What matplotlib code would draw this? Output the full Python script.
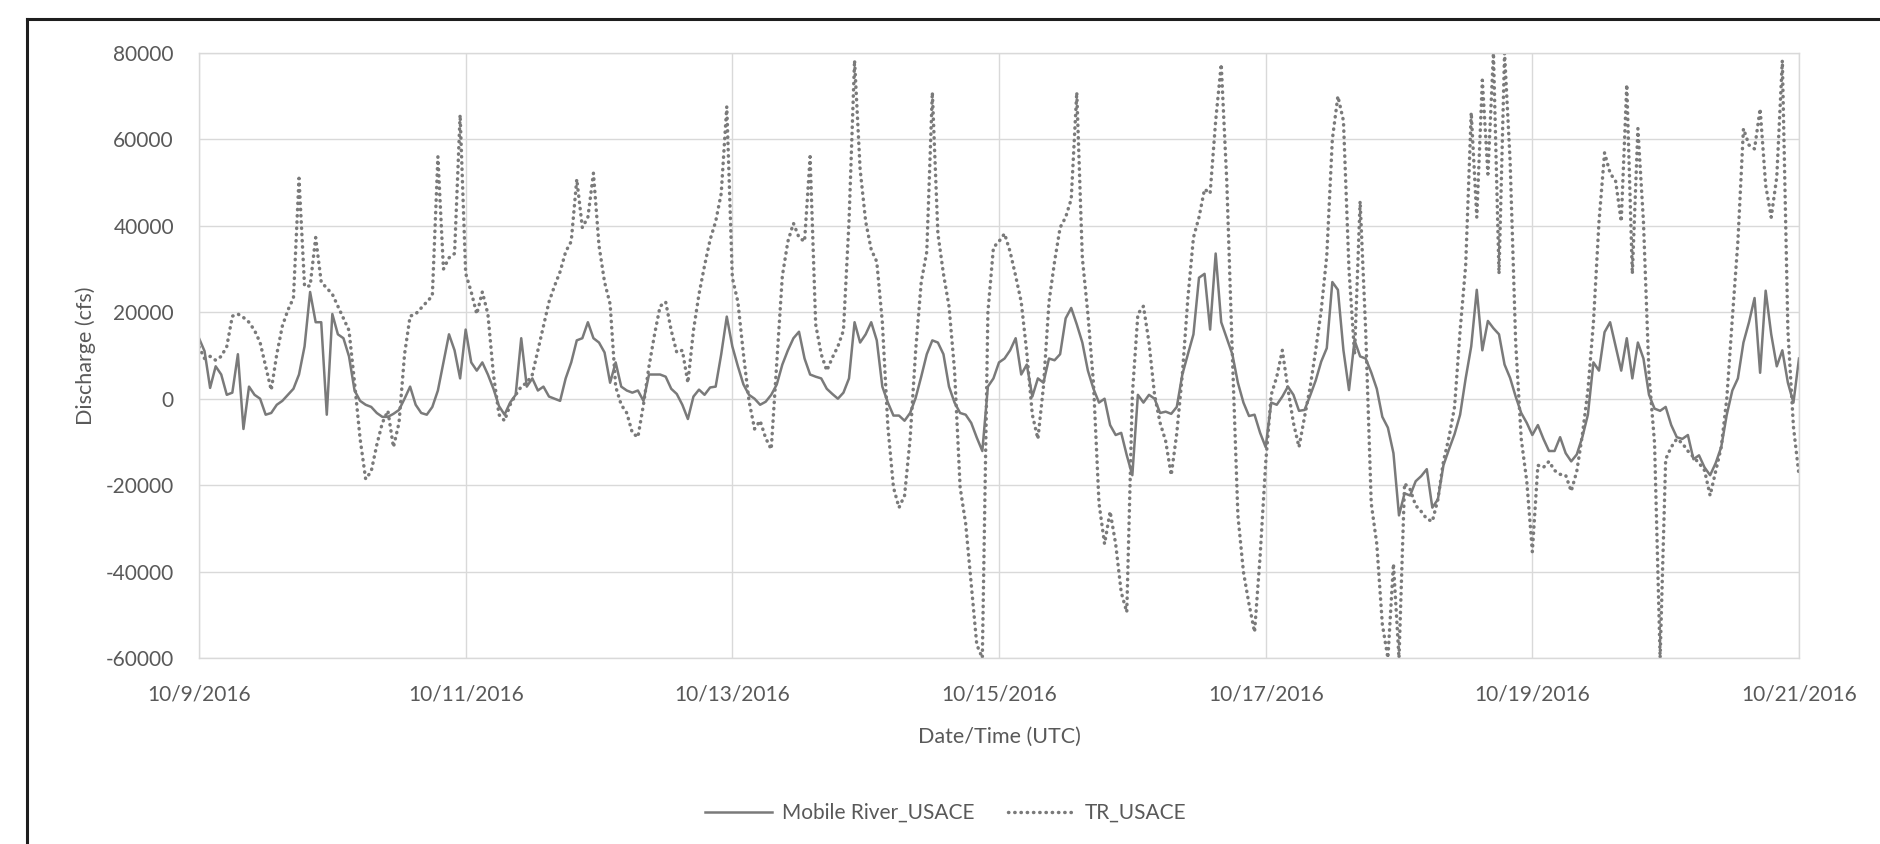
import matplotlib
matplotlib.use("Agg")
import matplotlib.pyplot as plt
from matplotlib.lines import Line2D
import pandas as pd

# Hourly discharge (cfs), 10/9/2016 00:00 UTC through 10/21/2016 00:00 UTC
start = "2016-10-09 00:00"

mobile_river_usace = [
    14000, 11000, 2500, 7500, 5600, 900, 1400, 10300, -7000, 2800, 900, 0,
    -3700, -3300, -1400, -500, 900, 2300, 5600, 12100, 24700, 17700, 17700, -3700,
    19600, 14900, 14000, 9800, 1900, -500, -1400, -1900, -3300, -4200, -4200, -3500,
    -2600, 0, 2800, -1400, -3300, -3700, -1900, 1900, 8400, 14900, 11200, 4700,
    16000, 8400, 6500, 8400, 5600, 2300, -1700, -3700, -900, 900, 14000, 2800,
    4700, 1900, 2800, 500, 0, -500, 4700, 8400, 13500, 14000, 17700, 14000,
    13000, 10700, 3700, 8400, 2800, 1900, 1400, 1900, -500, 5600, 5600, 5600,
    5100, 2300, 1100, -1400, -4700, 500, 2100, 900, 2600, 2800, 10300, 19000,
    12100, 7500, 3300, 900, 0, -1400, -700, 900, 3300, 7900, 11200, 14000,
    15500, 9300, 5600, 5100, 4700, 2300, 1100, 0, 1400, 4700, 17700, 13000,
    14900, 17700, 13500, 2800, -900, -3900, -3900, -5100, -3300, 200, 5100, 10300,
    13500, 13000, 10300, 2800, -900, -3300, -3700, -5600, -9000, -12100, 2800, 4700,
    8400, 9300, 11200, 14000, 5600, 7900, 500, 4700, 3700, 9300, 8900, 10300,
    18600, 21000, 17200, 13000, 6500, 2300, -900, 0, -6100, -8400, -7900, -13100,
    -17700, 900, -900, 900, 0, -3300, -3000, -3500, -1900, 5600, 10300, 14900,
    28000, 28900, 16000, 33600, 17700, 14000, 10300, 3700, -900, -4000, -3700, -7900,
    -11200, -900, -1400, 500, 2800, 900, -2800, -2600, 700, 4200, 8600, 11700,
    27000, 25200, 11200, 2000, 13500, 9800, 9300, 6100, 2300, -4200, -6700, -12600,
    -27000, -21900, -22400, -19100, -17900, -16300, -25200, -23300, -15400, -11700, -8200, -3700,
    4700, 12100, 25200, 11200, 18000, 16300, 14900, 7900, 4800, 500, -3300, -5600,
    -8400, -6100, -9300, -12100, -12100, -8900, -12600, -14500, -12900, -8900, -3700, 8400,
    6500, 15400, 17700, 12100, 6500, 14000, 4700, 13000, 9300, 900, -2300, -2800,
    -1900, -6100, -8900, -9300, -8400, -14000, -13100, -15900, -17700, -14900, -11200, -3700,
    1900, 4700, 13000, 17700, 23300, 6000, 25000, 14900, 7500, 11200, 3700, -900,
    9300,
]

tr_usace = [
    12000, 9300, 9800, 8900, 9800, 12100, 19100, 19600, 18800, 17700, 15800, 13000,
    7500, 2000, 10300, 16800, 20500, 23300, 51000, 26000, 26100, 37300, 27000, 25600,
    24200, 21400, 18600, 15800, 3700, -9300, -18600, -16800, -10700, -5600, -2800, -11200,
    -5600, 10300, 19100, 19600, 21000, 22400, 23800, 56000, 30000, 32600, 33600, 65700,
    29000, 24700, 19600, 24700, 19600, 5600, -3700, -5100, -1400, 900, 2800, 3700,
    5600, 11200, 16800, 22400, 26100, 29400, 34000, 36400, 50800, 39600, 42000, 52200,
    35400, 27000, 21900, 2800, -1400, -3300, -7900, -8900, -1400, 7500, 14900, 21400,
    22400, 15800, 10700, 11200, 3700, 15800, 24200, 30800, 36800, 41000, 47500, 67600,
    28000, 22400, 10300, -500, -7000, -5100, -9100, -11700, 8400, 28400, 36400, 40600,
    37300, 36400, 56000, 17200, 10300, 6500, 9500, 12100, 15800, 41000, 78300, 53100,
    41000, 34500, 31700, 17700, -6500, -20500, -25200, -22400, -9300, 11200, 27000, 34000,
    70900, 38200, 28900, 21400, 6500, -20500, -28900, -42900, -56900, -60000, 20000, 35000,
    36400, 38200, 34000, 28400, 22400, 10700, -3700, -9300, 2800, 22400, 31700, 39600,
    42000, 46200, 70900, 32600, 19600, 3700, -24200, -33600, -26100, -33600, -44800, -49400,
    900, 19600, 21400, 13000, 900, -5600, -9800, -17700, -8000, 5600, 23300, 37300,
    42000, 48500, 47500, 64300, 77400, 50300, 10300, -27000, -40100, -47500, -54000, -36400,
    -14900, 900, 5100, 11200, 2300, -5600, -11200, -4200, 2600, 11200, 20500, 33100,
    60000, 70000, 64300, 29800, 10300, 45700, 15800, -24200, -33600, -52200, -60000, -38200,
    -60000, -19600, -21000, -24700, -26100, -27800, -28400, -23300, -14500, -8900, -1900, 15800,
    30800, 66200, 42000, 73700, 52000, 80000, 28900, 80000, 55000, 13000, -9300, -19100,
    -35400, -15400, -15900, -14500, -16600, -17500, -17700, -21400, -16800, -8400, 1900, 17700,
    41000, 56900, 52200, 50300, 41000, 72700, 28900, 62500, 41000, 5600, -10300, -60000,
    -14000, -11200, -9300, -10300, -12100, -13500, -14900, -16600, -22400, -16800, -11200, 0,
    18600, 36400, 62500, 58700, 57800, 67100, 49400, 42000, 51300, 78300, 15800, -6500,
    -17700,
]

series_names = ["Mobile River_USACE", "TR_USACE"]
tick_dates = ["2016-10-09", "2016-10-11", "2016-10-13", "2016-10-15",
              "2016-10-17", "2016-10-19", "2016-10-21"]
tick_labels = ["10/9/2016", "10/11/2016", "10/13/2016", "10/15/2016",
               "10/17/2016", "10/19/2016", "10/21/2016"]
y_ticks = [-60000, -40000, -20000, 0, 20000, 40000, 60000, 80000]
y_labels = ["-60000", "-40000", "-20000", "0", "20000", "40000", "60000", "80000"]

times = pd.date_range(start, periods=len(mobile_river_usace), freq="h")

plt.rcParams["font.family"] = ["Lato", "DejaVu Sans"]
text_color = "#595959"
grid_color = "#d9d9d9"
line_color = "#7a7a7a"
solid_lw = 1.8
dot_lw = 2.5
dot_style = (0, (0.1, 1.7))

W, H = 1880, 844
fig = plt.figure(figsize=(W / 100, H / 100), dpi=100)
fig.patch.set_facecolor("white")

ax = fig.add_axes([199 / W, 1 - 658 / H, 1600 / W, 605 / H])

ax.plot(times, mobile_river_usace, color=line_color, lw=solid_lw,
        solid_joinstyle="round", label=series_names[0])
ax.plot(times, tr_usace, color=line_color, lw=dot_lw, linestyle=dot_style,
        dash_capstyle="round", label=series_names[1])

ax.set_xlim(pd.Timestamp(tick_dates[0]), pd.Timestamp(tick_dates[-1]))
ax.set_ylim(y_ticks[0], y_ticks[-1])
ax.set_xticks(pd.to_datetime(tick_dates))
ax.set_xticklabels(tick_labels)
ax.set_yticks(y_ticks)
ax.set_yticklabels(y_labels)

ax.grid(True, color=grid_color, lw=1.0)
ax.set_axisbelow(True)
for sp in ax.spines.values():
    sp.set_color(grid_color)
    sp.set_linewidth(1.0)

ax.tick_params(axis="both", length=0, labelsize=15, labelcolor=text_color)
ax.tick_params(axis="x", pad=19)
ax.tick_params(axis="y", pad=18)

ax.set_xlabel("Date/Time (UTC)", fontsize=15.5, color=text_color)
ax.xaxis.set_label_coords(0.5, -0.113)
ax.set_ylabel("Discharge (cfs)", fontsize=15.5, color=text_color)
ax.yaxis.set_label_coords(-0.0645, 0.5)

handles = [Line2D([], [], color=line_color, lw=solid_lw),
           Line2D([], [], color=line_color, lw=dot_lw, linestyle=dot_style,
                  dash_capstyle="round")]
fig.legend(handles, series_names, loc="center", bbox_to_anchor=(946 / W, 1 - 813 / H),
           ncol=2, frameon=False, fontsize=15, handlelength=3.2,
           columnspacing=1.6, handletextpad=0.5, labelcolor=text_color)

# chart frame edges
fig.add_artist(Line2D([27 / W, 1.0], [1 - 19 / H, 1 - 19 / H],
                      transform=fig.transFigure, color="#1e1e1e", lw=2.2))
fig.add_artist(Line2D([27 / W, 27 / W], [0.0, 1 - 19 / H],
                      transform=fig.transFigure, color="#1e1e1e", lw=2.2))

fig.savefig("out.png", dpi=100, facecolor="white")
